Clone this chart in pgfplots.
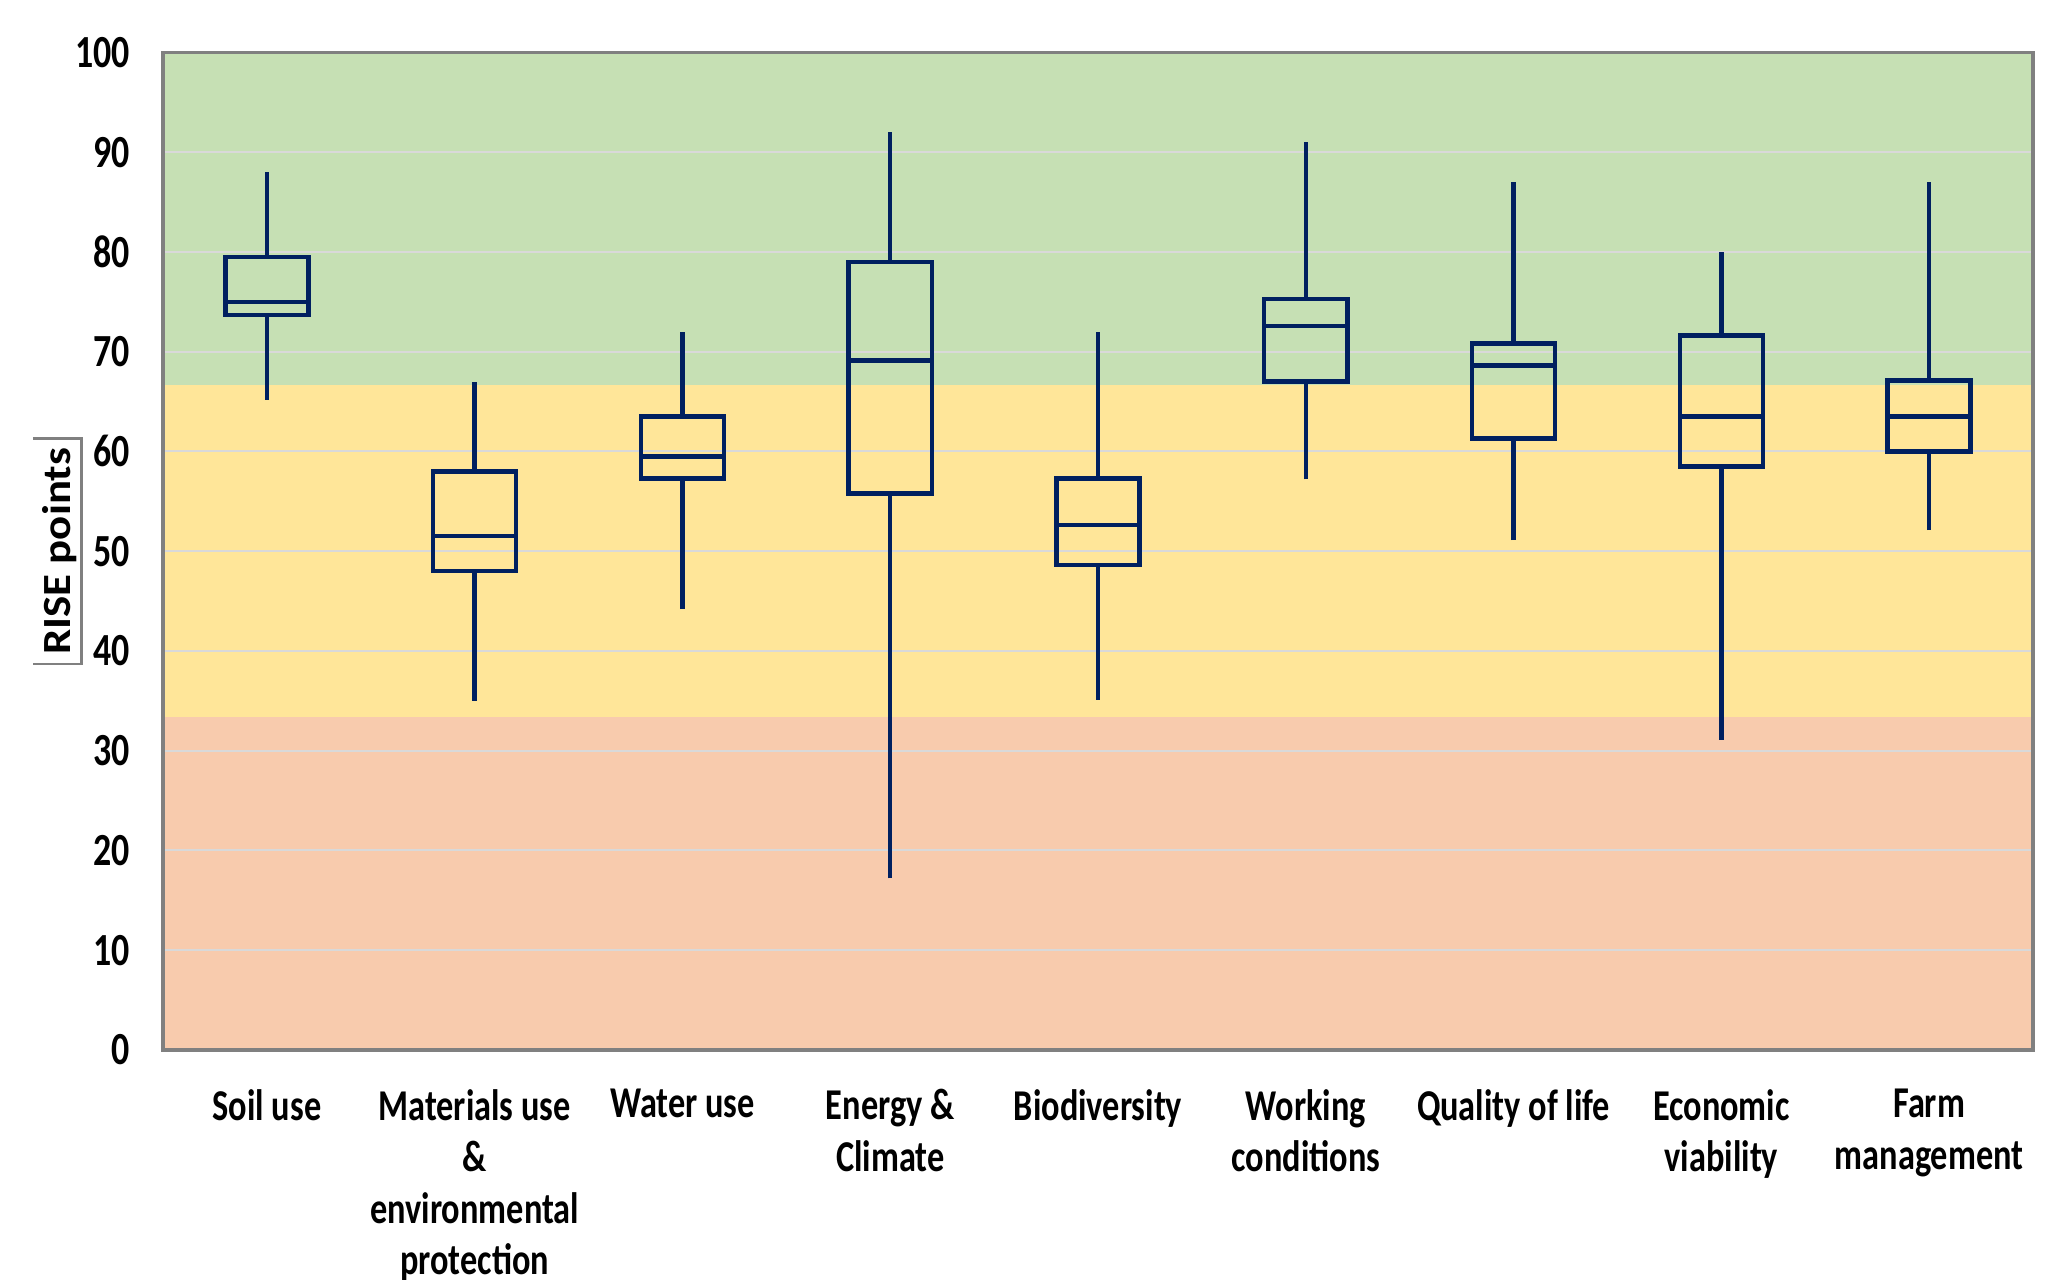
\documentclass[border=0pt]{standalone}
\usepackage{fontspec}
\setmainfont{Carlito}[FakeStretch=0.78]
\newfontfamily\ylabfont{Carlito}[FakeStretch=1.12]
\usepackage{pgfplots}
\pgfplotsset{compat=1.18}
\definecolor{navy}{HTML}{002060}
\definecolor{bggreen}{HTML}{C6E0B4}
\definecolor{bgyellow}{HTML}{FFE699}
\definecolor{bgorange}{HTML}{F8CBAD}
\definecolor{gridgray}{HTML}{D9D9D9}
\definecolor{axgray}{HTML}{808080}
\pgfplotsset{bx/.style={draw=navy, line width=1.1pt, mark=none, line join=miter}}
\begin{document}
\begin{tikzpicture}
\begin{axis}[
  set layers,
  at={(0,0)}, anchor=south west,
  scale only axis,
  width=467.5pt, height=249.4pt,
  xmin=-0.5, xmax=8.5,
  ymin=0, ymax=100,
  ytick={0,10,...,100},
  xtick={0,1,...,8},
  xticklabels={Soil use, Materials use\\\&\\environmental\\protection, Water use, Energy \&\\Climate, Biodiversity, Working\\conditions, Quality of life, Economic\\viability, Farm\\management},
  major tick length=0pt,
  ymajorgrids,
  grid style={draw=gridgray, line width=0.5pt},
  axis line style={draw=axgray, line width=0.8pt},
  /pgf/number format/assume math mode=true,
  xticklabel style={font=\bfseries\fontsize{11}{12.9}\selectfont, align=center, anchor=north, yshift=-6.3pt},
  yticklabel style={font=\bfseries\fontsize{11.5}{12.9}\selectfont, anchor=east, xshift=-4.8pt},
  ylabel={\ylabfont\bfseries\fontsize{10}{12}\selectfont RISE points},
  ylabel style={name=ylab, at={(rel axis cs:0,0.5)}, anchor=south, yshift=20.35pt, minimum width=56pt, inner xsep=0pt, inner ysep=1pt},
]
\begin{pgfonlayer}{axis background}
\fill[bgorange] (axis cs:-0.5,0) rectangle (axis cs:8.5,33.33);
\fill[bgyellow] (axis cs:-0.5,33.33) rectangle (axis cs:8.5,66.67);
\fill[bggreen] (axis cs:-0.5,66.67) rectangle (axis cs:8.5,100);
\end{pgfonlayer}
% Soil use: lw 65.2, q1 73.7, med 75.0, q3 79.5, uw 88.0
\addplot[bx] coordinates {(-0.2,73.7) (0.2,73.7) (0.2,79.5) (-0.2,79.5)} -- cycle;
\addplot[bx] coordinates {(-0.2,75.0) (0.2,75.0)};
\addplot[bx] coordinates {(0,79.5) (0,88.0)};
\addplot[bx] coordinates {(0,65.2) (0,73.7)};
% Materials use: 35.0, 48.0, 51.5, 58.0, 67.0
\addplot[bx] coordinates {(0.8,48.0) (1.2,48.0) (1.2,58.0) (0.8,58.0)} -- cycle;
\addplot[bx] coordinates {(0.8,51.5) (1.2,51.5)};
\addplot[bx] coordinates {(1,58.0) (1,67.0)};
\addplot[bx] coordinates {(1,35.0) (1,48.0)};
% Water use: 44.2, 57.3, 59.5, 63.5, 72.0
\addplot[bx] coordinates {(1.8,57.3) (2.2,57.3) (2.2,63.5) (1.8,63.5)} -- cycle;
\addplot[bx] coordinates {(1.8,59.5) (2.2,59.5)};
\addplot[bx] coordinates {(2,63.5) (2,72.0)};
\addplot[bx] coordinates {(2,44.2) (2,57.3)};
% Energy & Climate: 17.2, 55.8, 69.1, 79.0, 92.0
\addplot[bx] coordinates {(2.8,55.8) (3.2,55.8) (3.2,79.0) (2.8,79.0)} -- cycle;
\addplot[bx] coordinates {(2.8,69.1) (3.2,69.1)};
\addplot[bx] coordinates {(3,79.0) (3,92.0)};
\addplot[bx] coordinates {(3,17.2) (3,55.8)};
% Biodiversity: 35.1, 48.6, 52.6, 57.3, 72.0
\addplot[bx] coordinates {(3.8,48.6) (4.2,48.6) (4.2,57.3) (3.8,57.3)} -- cycle;
\addplot[bx] coordinates {(3.8,52.6) (4.2,52.6)};
\addplot[bx] coordinates {(4,57.3) (4,72.0)};
\addplot[bx] coordinates {(4,35.1) (4,48.6)};
% Working conditions: 57.2, 67.0, 72.6, 75.3, 91.0
\addplot[bx] coordinates {(4.8,67.0) (5.2,67.0) (5.2,75.3) (4.8,75.3)} -- cycle;
\addplot[bx] coordinates {(4.8,72.6) (5.2,72.6)};
\addplot[bx] coordinates {(5,75.3) (5,91.0)};
\addplot[bx] coordinates {(5,57.2) (5,67.0)};
% Quality of life: 51.1, 61.3, 68.6, 70.8, 87.0
\addplot[bx] coordinates {(5.8,61.3) (6.2,61.3) (6.2,70.8) (5.8,70.8)} -- cycle;
\addplot[bx] coordinates {(5.8,68.6) (6.2,68.6)};
\addplot[bx] coordinates {(6,70.8) (6,87.0)};
\addplot[bx] coordinates {(6,51.1) (6,61.3)};
% Economic viability: 31.1, 58.5, 63.5, 71.6, 80.0
\addplot[bx] coordinates {(6.8,58.5) (7.2,58.5) (7.2,71.6) (6.8,71.6)} -- cycle;
\addplot[bx] coordinates {(6.8,63.5) (7.2,63.5)};
\addplot[bx] coordinates {(7,71.6) (7,80.0)};
\addplot[bx] coordinates {(7,31.1) (7,58.5)};
% Farm management: 52.1, 60.0, 63.5, 67.1, 87.0
\addplot[bx] coordinates {(7.8,60.0) (8.2,60.0) (8.2,67.1) (7.8,67.1)} -- cycle;
\addplot[bx] coordinates {(7.8,63.5) (8.2,63.5)};
\addplot[bx] coordinates {(8,67.1) (8,87.0)};
\addplot[bx] coordinates {(8,52.1) (8,60.0)};
\end{axis}
\draw[axgray, line width=0.6pt] ([xshift=-12.2pt]ylab.south east) -- (ylab.south east) -- (ylab.south west) -- ([xshift=-12.2pt]ylab.south west);
\pgfresetboundingbox
\path[use as bounding box] (-40.75pt,-57.5pt) rectangle (475pt,262.5pt);
\end{tikzpicture}
\end{document}
